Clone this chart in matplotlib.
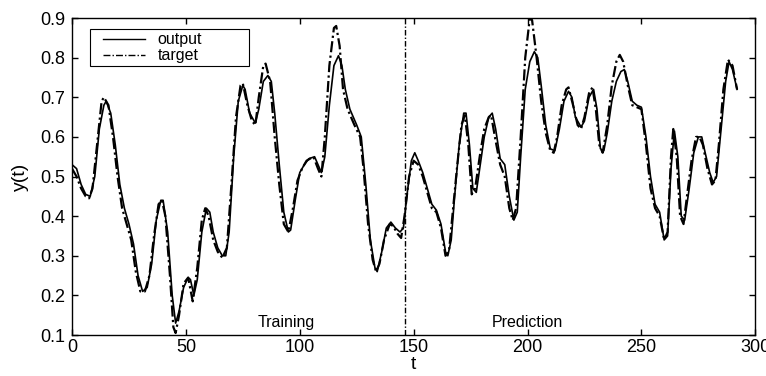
import matplotlib.pyplot as plt
from matplotlib.legend_handler import HandlerLine2D

plt.rcParams['font.family'] = ['Liberation Sans', 'DejaVu Sans']

# target series (t, y)
target_t = [0, 2, 4, 6, 7.5, 9, 11, 13, 14, 16, 18, 20, 22, 24, 26, 28, 30, 32, 34, 36,
            38, 39.5, 41, 43, 44.5, 45.5, 47, 49, 51, 53, 55, 57, 58.5, 60, 62, 64, 66, 68,
            70, 72, 74, 75, 77, 79, 80.5, 82, 84, 85, 87, 89, 91, 93, 95, 97, 99, 101, 103,
            106, 108, 109.5, 111, 113, 115, 116, 117.5, 119, 121, 124, 126.5, 128, 130, 132,
            133.5, 135, 137, 139.5, 141, 143, 144.5, 146, 148, 150, 152, 154, 156, 158, 160,
            162, 164, 165.5, 167, 169, 171, 172.5, 174, 175.5, 177, 179, 181, 183, 184, 186,
            188, 190, 192, 193.5, 195, 197, 199, 201, 202, 204, 206, 208, 210, 211.5, 213,
            215, 217, 218, 220, 222, 223.5, 225, 227, 228.5, 230, 231.5, 233, 235, 237, 239,
            240.5, 242, 244, 246, 248, 250, 252, 254, 256, 258, 260, 261.5, 263, 264, 265.5,
            267, 268.5, 270, 272, 274, 275.5, 277, 279, 281, 282.5, 284, 286, 288, 290, 292]
target_y = [0.52, 0.50, 0.47, 0.45, 0.445, 0.47, 0.58, 0.69, 0.70, 0.68, 0.60, 0.50, 0.42,
            0.38, 0.34, 0.26, 0.21, 0.21, 0.25, 0.35, 0.43, 0.44, 0.40, 0.25, 0.12, 0.105,
            0.15, 0.23, 0.245, 0.185, 0.27, 0.39, 0.42, 0.40, 0.34, 0.31, 0.295, 0.32, 0.48,
            0.65, 0.73, 0.735, 0.68, 0.64, 0.63, 0.70, 0.78, 0.785, 0.74, 0.60, 0.48, 0.38,
            0.36, 0.42, 0.49, 0.52, 0.54, 0.55, 0.52, 0.50, 0.60, 0.78, 0.875, 0.88, 0.83,
            0.72, 0.67, 0.63, 0.60, 0.52, 0.38, 0.29, 0.26, 0.28, 0.34, 0.38, 0.375, 0.355,
            0.345, 0.40, 0.50, 0.54, 0.53, 0.50, 0.46, 0.42, 0.41, 0.37, 0.30, 0.31, 0.40,
            0.52, 0.63, 0.655, 0.58, 0.455, 0.47, 0.55, 0.62, 0.65, 0.655, 0.59, 0.53, 0.50,
            0.42, 0.39, 0.42, 0.60, 0.80, 0.90, 0.895, 0.80, 0.69, 0.61, 0.565, 0.56, 0.60,
            0.68, 0.72, 0.725, 0.68, 0.63, 0.62, 0.65, 0.71, 0.725, 0.67, 0.58, 0.56, 0.63,
            0.73, 0.79, 0.807, 0.79, 0.73, 0.68, 0.675, 0.67, 0.58, 0.47, 0.42, 0.40, 0.34,
            0.36, 0.55, 0.62, 0.55, 0.40, 0.38, 0.45, 0.54, 0.60, 0.60, 0.58, 0.52, 0.48,
            0.49, 0.58, 0.72, 0.795, 0.78, 0.72]

# network output (t, y)
output_t = [0, 2, 4, 6, 8, 10, 12, 14, 15, 17, 19, 21, 23, 25, 27, 29, 31, 33, 35, 37, 39,
            40, 42, 44, 45.5, 47, 49, 51, 52, 53.5, 55, 57, 59, 60.5, 62, 64, 66, 67.5, 69,
            71, 73, 75, 76, 78, 80.5, 82, 84, 86, 87.5, 89, 91, 93, 95, 96, 98, 100, 102,
            104, 106.5, 108, 109.5, 111, 113, 115, 117, 118.5, 120, 122, 125, 127, 129, 131,
            133, 134, 136, 138, 140, 142, 144, 145.5, 147, 149, 150.5, 152, 154, 156, 158,
            160, 162, 164, 165, 166.5, 168, 170, 172, 173, 174.5, 176, 177.5, 179, 181, 183,
            184.5, 186, 188, 190, 192, 194, 195.5, 197, 199, 201, 203, 204.5, 206, 208, 210,
            212, 214, 216, 218, 219.5, 221, 223.5, 225, 227, 229, 230.5, 232, 233.5, 235,
            237, 239, 241, 242.5, 244, 246, 248, 250, 252, 254, 256, 258, 260, 261.5, 263,
            264.5, 266, 267.5, 269, 271, 273, 275, 276.5, 278, 280, 281.5, 283, 285, 287,
            288.5, 290, 292]
output_y = [0.53, 0.52, 0.48, 0.455, 0.45, 0.50, 0.62, 0.68, 0.69, 0.66, 0.58, 0.48, 0.42,
            0.38, 0.33, 0.25, 0.21, 0.22, 0.28, 0.39, 0.44, 0.44, 0.36, 0.20, 0.13, 0.16,
            0.22, 0.245, 0.24, 0.20, 0.24, 0.36, 0.42, 0.41, 0.36, 0.32, 0.30, 0.30, 0.36,
            0.55, 0.69, 0.73, 0.72, 0.66, 0.635, 0.67, 0.74, 0.755, 0.74, 0.66, 0.53, 0.41,
            0.36, 0.365, 0.44, 0.51, 0.53, 0.545, 0.55, 0.53, 0.51, 0.55, 0.68, 0.78, 0.805,
            0.78, 0.72, 0.67, 0.63, 0.60, 0.48, 0.34, 0.27, 0.26, 0.31, 0.37, 0.385, 0.37,
            0.36, 0.37, 0.45, 0.54, 0.56, 0.54, 0.51, 0.47, 0.43, 0.415, 0.38, 0.31, 0.30,
            0.34, 0.45, 0.58, 0.66, 0.66, 0.58, 0.47, 0.46, 0.52, 0.60, 0.65, 0.66, 0.62,
            0.545, 0.53, 0.45, 0.39, 0.41, 0.55, 0.72, 0.79, 0.815, 0.80, 0.73, 0.63, 0.57,
            0.565, 0.62, 0.69, 0.715, 0.70, 0.65, 0.625, 0.64, 0.70, 0.72, 0.67, 0.57, 0.565,
            0.61, 0.69, 0.74, 0.765, 0.77, 0.74, 0.69, 0.68, 0.675, 0.60, 0.50, 0.43, 0.41,
            0.34, 0.35, 0.52, 0.615, 0.55, 0.40, 0.39, 0.47, 0.56, 0.60, 0.60, 0.56, 0.51,
            0.485, 0.50, 0.62, 0.74, 0.79, 0.77, 0.72]

split_t = 146


def main():
    fig = plt.figure(figsize=(7.66, 3.76), dpi=100)
    ax = fig.add_axes([0.094, 0.109, 0.892, 0.843])

    ax.plot(output_t, output_y, color='black', linewidth=1.2, label='output')
    ax.plot(target_t, target_y, color='black', linewidth=1.6, linestyle=(0, (5, 1.5, 1, 1.5)),
            label='target')
    ax.axvline(split_t, color='black', linewidth=1.0, linestyle=(0, (4, 1.5, 1, 1.5)))

    ax.text(94, 0.12, 'Training', ha='center', va='baseline', fontsize=11.5)
    ax.text(200, 0.12, 'Prediction', ha='center', va='baseline', fontsize=11.5)

    ax.set_xlim(0, 300)
    ax.set_ylim(0.1, 0.9)
    ax.set_xticks(range(0, 301, 50))
    ax.set_yticks([0.1, 0.2, 0.3, 0.4, 0.5, 0.6, 0.7, 0.8, 0.9])
    ax.set_yticklabels(['0.1', '0.2', '0.3', '0.4', '0.5', '0.6', '0.7', '0.8', '0.9'])
    ax.tick_params(direction='in', top=True, right=True, labelsize=13, length=4, width=1)
    ax.tick_params(axis='x', pad=3)
    ax.tick_params(axis='y', pad=5)
    for s in ax.spines.values():
        s.set_linewidth(1.0)
    ax.set_xlabel('t', fontsize=14, labelpad=0)
    ax.set_ylabel('y(t)', fontsize=14, labelpad=8)

    leg = ax.legend(loc='upper left', bbox_to_anchor=(0.026, 0.965, 0.233, 0.0),
                    mode='expand', fontsize=11.5,
                    fancybox=False, edgecolor='black', framealpha=1,
                    handlelength=3.25, handletextpad=0.8, borderpad=0.2,
                    labelspacing=0.05, borderaxespad=0,
                    handler_map={plt.Line2D: HandlerLine2D(xpad=0.65)})
    leg.get_frame().set_linewidth(0.8)
    for line in leg.get_lines():
        line.set_linewidth(1.0)

    fig.savefig('out.png', dpi=100)


if __name__ == "__main__":
    main()
